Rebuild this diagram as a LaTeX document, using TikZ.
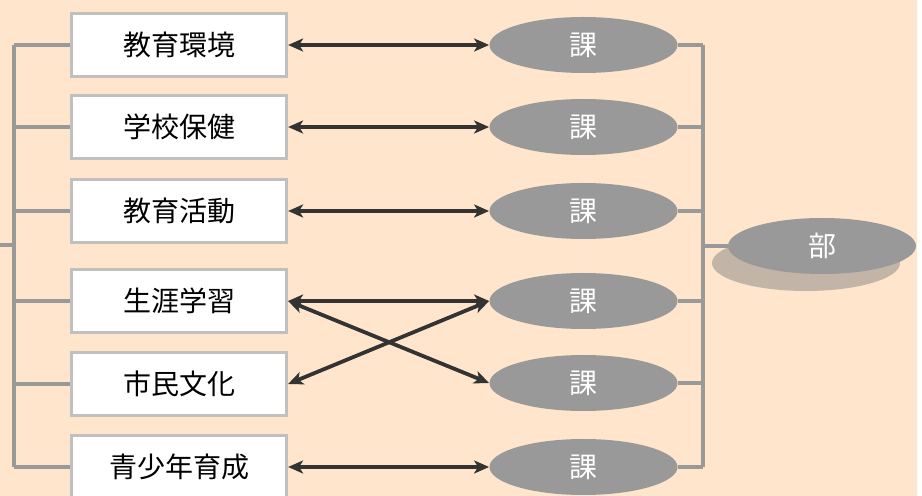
\documentclass[tikz,border=0pt]{standalone}
\usepackage{fontspec}
\setmainfont{Noto Sans CJK JP}
\usepackage{tikz}
\usetikzlibrary{shapes.geometric,arrows.meta}
\definecolor{peach}{RGB}{255,229,204}
\definecolor{bordergray}{RGB}{192,192,192}
\definecolor{busgray}{RGB}{153,153,153}
\definecolor{darkline}{RGB}{51,51,51}
\definecolor{shadowtan}{RGB}{194,180,166}

\begin{document}
\begin{tikzpicture}[x=0.5pt, y=-0.5pt,
		box/.style={draw=bordergray, line width=1.6pt, fill=white, minimum width=107.5pt, minimum height=31.5pt, inner sep=0pt, font=\fontsize{14}{16}\selectfont},
		ka/.style={ellipse, fill=busgray, text=white, minimum width=94pt, minimum height=28pt, inner sep=0pt, font=\fontsize{14}{16}\selectfont},
		bus/.style={draw=busgray, line width=1.6pt},
		dbl/.style={draw=darkline, line width=1.9pt, {Stealth[length=7.5pt,width=6.5pt,inset=2pt]}-{Stealth[length=7.5pt,width=6.5pt,inset=2pt]}}]
				\useasboundingbox (0,0) rectangle (922,496);
				\clip (0,0) rectangle (922,496);
				\fill[peach, rounded corners=28.5pt] (-80,-80) rectangle (917,560);
				
				% left boxes
				\path (179, 45) node[box] (b1){教育環境}
				(179, 127) node[box] (b2){学校保健}
				(179, 211) node[box] (b3){教育活動}
				(179, 301) node[box] (b4){生涯学習}
				(179, 384) node[box] (b5){市民文化}
				(179, 467) node[box] (b6){青少年育成};
				
				% sections
				\path (583.5, 45) node[ka] (k1){課}
				(583.5, 127) node[ka] (k2){課}
				(583.5, 211) node[ka] (k3){課}
				(583.5, 301) node[ka] (k4){課}
				(583.5, 383) node[ka] (k5){課}
				(583.5, 467) node[ka] (k6){課};
				
				% department with shadow
				\fill[shadowtan] (806, 263) ellipse (94 and 28);
				\path (822, 246) node[ka] (bu){部};
				
				% buses
				\coordinate (lt) at (14, 45);
				\coordinate (lb) at (14, 467);
				\coordinate (ls) at (0, 245);
				\coordinate (rt) at (703, 45);
				\coordinate (rb) at (703, 467);
				\draw[bus] (lt) -- (lb) (ls) -- (ls -| lt);
				\draw[bus] (rt) -- (rb) (bu.west) -- (bu.west -| rt);
				\foreach \i in {1,...,6} {
					\draw[bus] (b\i.west) -- (b\i.west -| lt);
					\draw[bus] (k\i.east) -- (k\i.east -| rt);
				}
				
				% arrows
				\draw[dbl] (b1.east) -- (k1.west);
				\draw[dbl] (b2.east) -- (k2.west);
				\draw[dbl] (b3.east) -- (k3.west);
				\draw[dbl] (b4.east) -- (k4.west);
				\draw[dbl] (b4.east) -- (k5.west);
				\draw[dbl] (b5.east) -- (k4.west);
				\draw[dbl] (b6.east) -- (k6.west);
			\end{tikzpicture}
\end{document}
